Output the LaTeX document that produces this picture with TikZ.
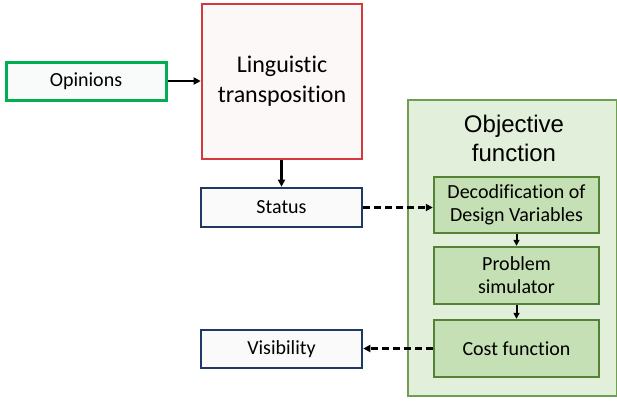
\documentclass[tikz,border=0pt]{standalone}
\usepackage{fontspec}
\setmainfont{Carlito}[RawFeature={-liga;-dlig;-clig}]
\newfontfamily\objfont{Liberation Sans}
\usetikzlibrary{arrows.meta}
\definecolor{opgreen}{HTML}{00B050}
\definecolor{opfill}{HTML}{F8FBF9}
\definecolor{lred}{HTML}{D5393C}
\definecolor{lfill}{HTML}{FDF8F8}
\definecolor{navy}{HTML}{1F3864}
\definecolor{nfill}{HTML}{FAFAFA}
\definecolor{outfill}{HTML}{E2EFDA}
\definecolor{outline}{HTML}{6F9E50}
\definecolor{infill}{HTML}{C5E0B4}
\definecolor{inline}{HTML}{548235}
\tikzset{
  box/.style={draw, rectangle, inner sep=0pt, align=center, font=\fontsize{20}{23}\selectfont, text=black},
  opbox/.style={box, draw=opgreen, fill=opfill, line width=3pt},
  lbox/.style={box, draw=lred, fill=lfill, line width=2.6pt, font=\fontsize{24}{30}\selectfont},
  nbox/.style={box, draw=navy, fill=nfill, line width=2.6pt},
  outbox/.style={draw=outline, fill=outfill, line width=2.4pt},
  inbox/.style={box, draw=inline, fill=infill, line width=2.4pt},
  arr/.style={line width=2.4pt, -{Triangle[length=7pt,width=7pt]}},
  darr/.style={arr, dash pattern=on 7pt off 4pt},
}
\begin{document}
\begin{tikzpicture}[x=1pt,y=-1pt]
\useasboundingbox (0,0) rectangle (617,400);
\node[opbox, minimum width=160pt, minimum height=38pt] (op) at (86,81) {Opinions};
\node[lbox, minimum width=160pt, minimum height=155pt] (ling) at (282,81.5) {Linguistic\\transposition};
\node[nbox, minimum width=161pt, minimum height=39pt] (status) at (281.5,207.5) {Status};
\node[nbox, minimum width=161pt, minimum height=38pt] (vis) at (281.5,349) {Visibility};
\draw[outbox] (408,100) rectangle (617,396);
\node[inner sep=0pt, align=center, font=\objfont\fontsize{24}{29}\selectfont] (objt) at (514,138) {Objective\\function};
\node[inbox, minimum width=165pt, minimum height=56pt] (dec) at (516.5,205) {Decodification of\\Design Variables};
\node[inbox, minimum width=165pt, minimum height=57pt] (sim) at (516.5,275.5) {Problem\\simulator};
\node[inbox, minimum width=165pt, minimum height=57pt] (cost) at (516.5,348.5) {Cost function};
\draw[arr] (op.east) -- (ling.west |- op.east);
\draw[arr] (ling.south -| status.north) -- (status.north);
\draw[darr] (status.east) -- (dec.west |- status.east);
\draw[darr] (cost.west) -- (vis.east |- cost.west);
\draw[arr, line width=2pt, -{Triangle[length=6pt,width=6pt]}] (dec.south) -- (sim.north);
\draw[arr, line width=2pt, -{Triangle[length=6pt,width=6pt]}] (sim.south) -- (cost.north);
\end{tikzpicture}
\end{document}
